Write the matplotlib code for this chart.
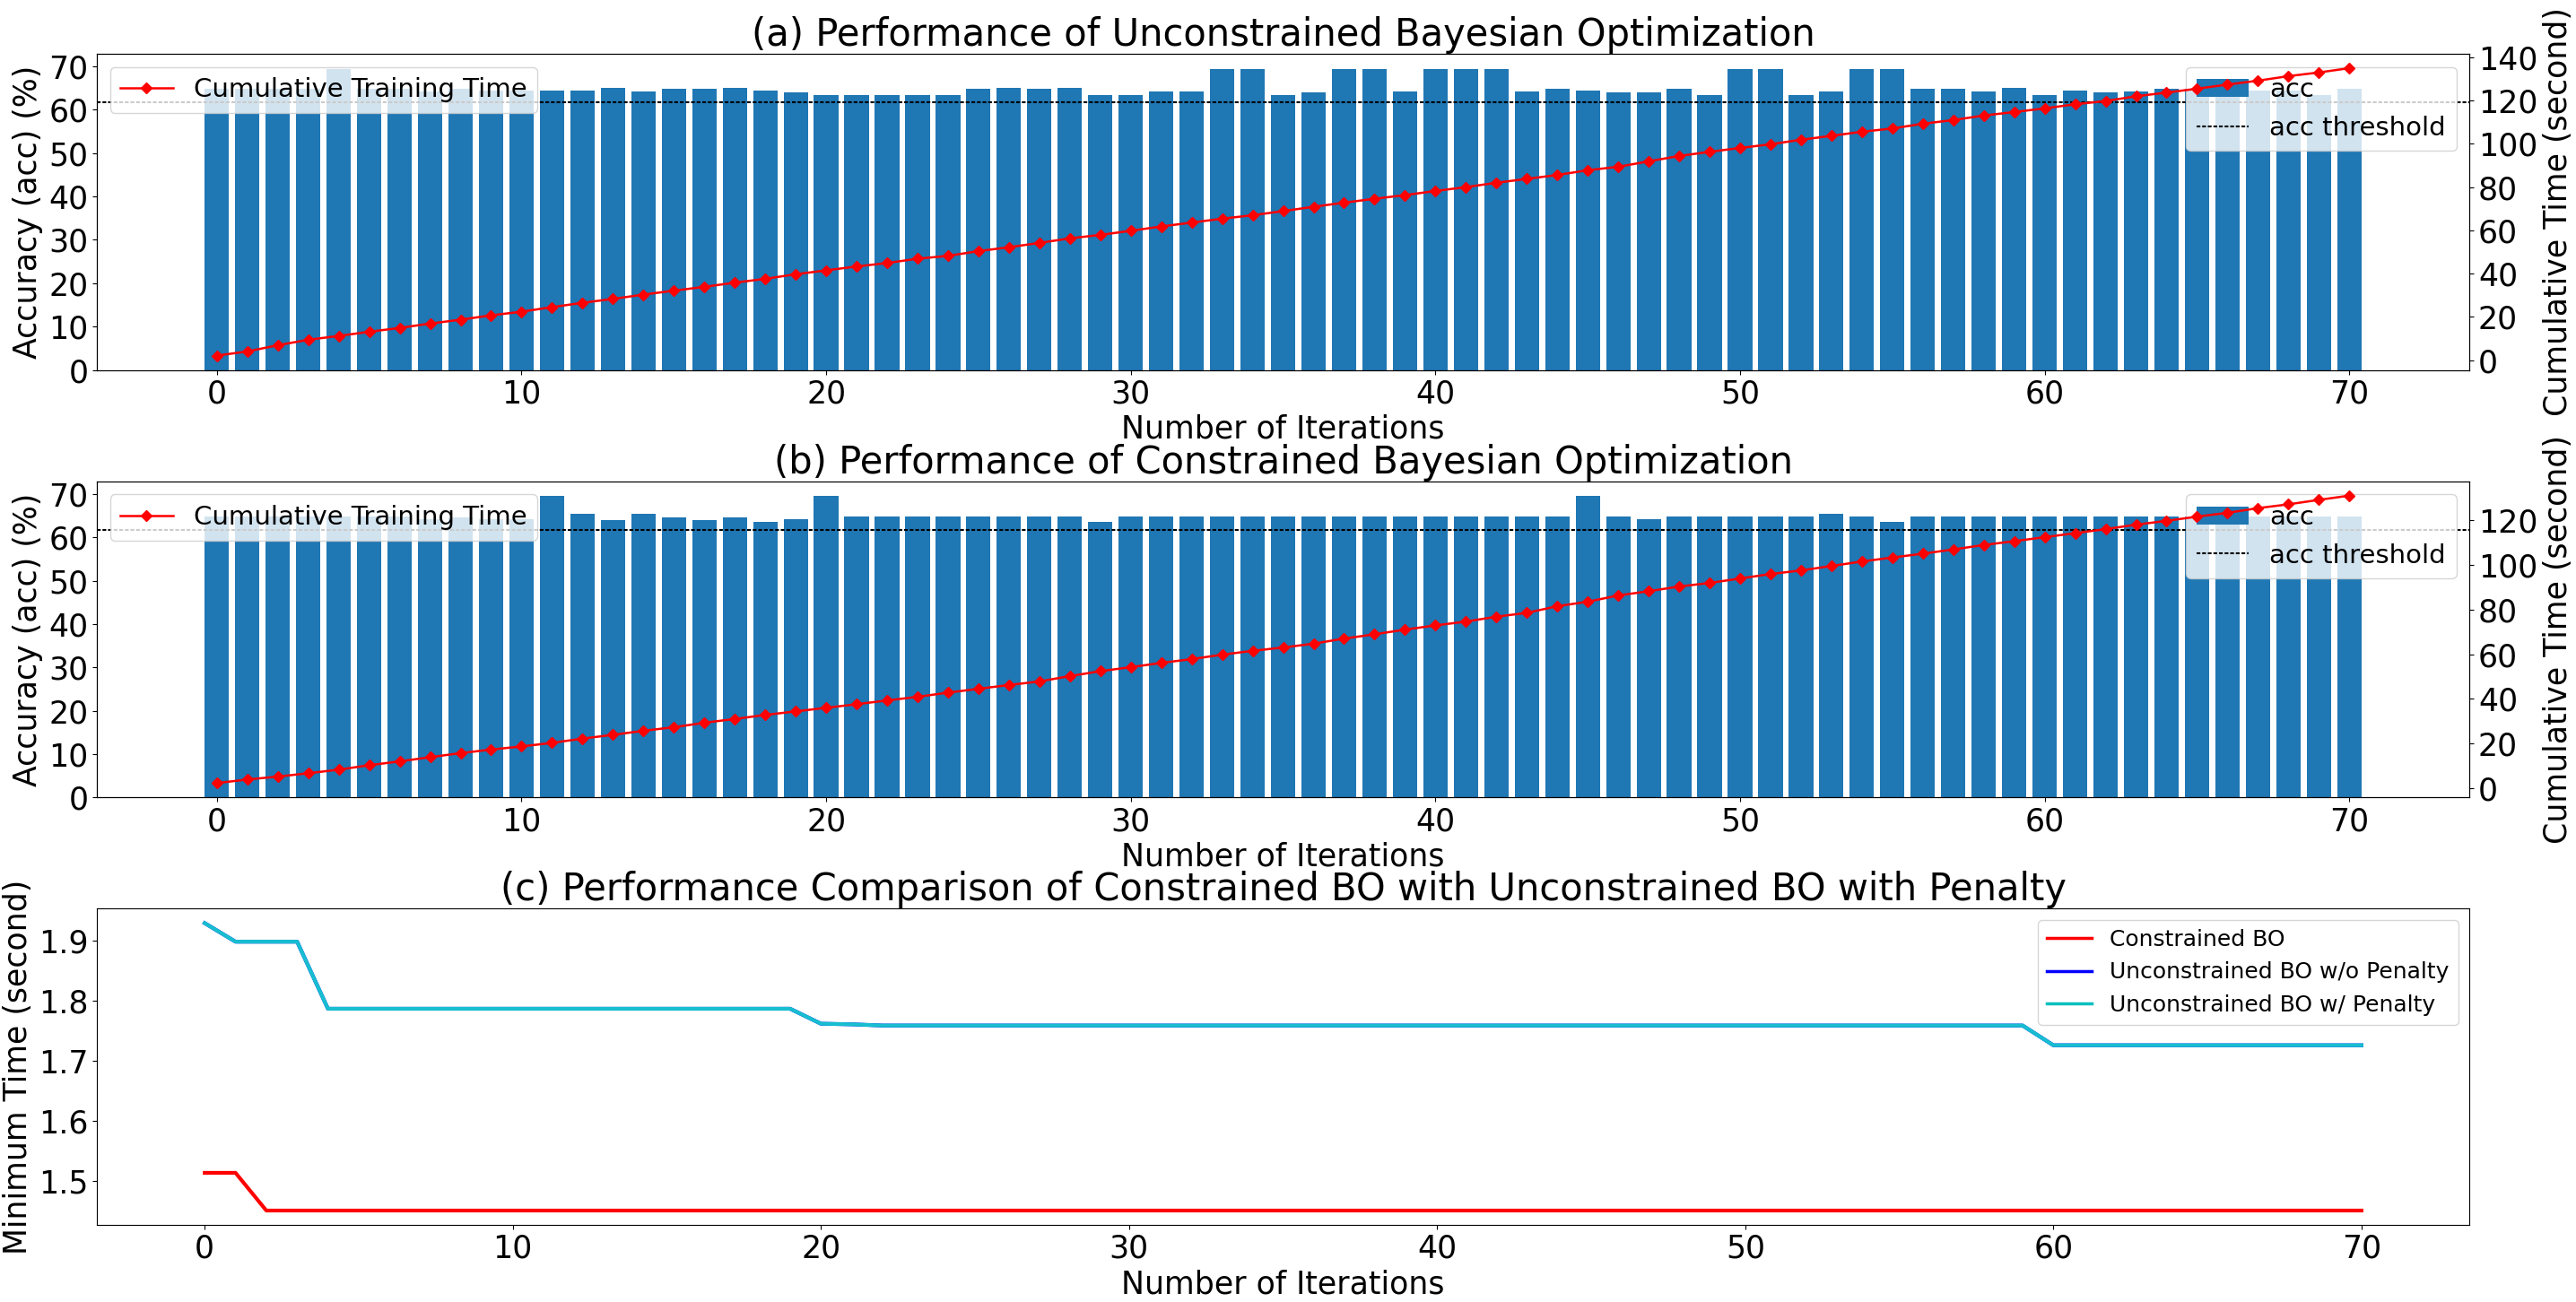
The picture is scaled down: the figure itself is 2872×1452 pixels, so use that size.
import matplotlib
matplotlib.use("Agg")
import matplotlib.pyplot as plt
from matplotlib.lines import Line2D
from matplotlib.ticker import MultipleLocator

iterations = list(range(71))

acc_unconstrained = [64.8, 64.8, 64.8, 64.8, 69.4, 64.8, 64.8, 64.1, 64.8, 64.3,
                     64.3, 64.4, 64.4, 65.1, 64.2, 64.9, 64.9, 65.1, 64.4, 64.0,
                     63.4, 63.4, 63.4, 63.4, 63.4, 64.9, 65.1, 64.9, 65.1, 63.4,
                     63.4, 64.2, 64.2, 69.4, 69.4, 63.4, 64.0, 69.4, 69.4, 64.2,
                     69.4, 69.4, 69.4, 64.2, 64.9, 64.4, 64.0, 64.0, 64.9, 63.4,
                     69.4, 69.4, 63.4, 64.2, 69.4, 69.4, 64.9, 64.9, 64.2, 65.1,
                     63.4, 64.4, 64.0, 64.1, 64.9, 64.9, 64.9, 64.3, 64.3, 63.4,
                     64.9]

time_unconstrained = [2.1, 4.0, 6.9, 9.4, 11.2, 13.1, 14.9, 16.9, 18.7, 20.7,
                      22.4, 24.5, 26.5, 28.3, 30.3, 32.1, 33.9, 35.8, 37.6, 39.7,
                      41.5, 43.3, 44.9, 46.9, 48.2, 50.4, 52.2, 54.2, 56.3, 57.9,
                      59.8, 61.8, 63.6, 65.4, 67.0, 68.9, 70.9, 72.8, 74.6, 76.3,
                      78.2, 80.0, 82.0, 83.8, 85.6, 87.8, 89.4, 91.9, 94.4, 96.3,
                      98.1, 99.8, 101.9, 103.7, 105.6, 107.1, 109.3, 111.0, 113.1, 114.7,
                      116.4, 118.3, 119.8, 122.0, 123.7, 125.5, 127.4, 129.2, 131.3, 133.0,
                      135.0]

acc_constrained = [64.9, 64.9, 64.9, 64.9, 64.9, 64.9, 64.9, 64.3, 64.7, 64.3,
                   64.3, 69.5, 65.4, 64.1, 65.4, 64.7, 64.1, 64.7, 63.7, 64.3,
                   69.5, 64.9, 64.9, 64.9, 64.9, 64.9, 64.9, 64.9, 64.9, 63.7,
                   64.9, 64.9, 64.9, 64.9, 64.9, 64.9, 64.9, 64.9, 64.9, 64.9,
                   64.9, 64.9, 64.9, 64.9, 64.9, 69.5, 64.9, 64.3, 64.9, 64.9,
                   64.9, 64.9, 64.9, 65.4, 64.9, 63.7, 64.9, 64.9, 64.9, 64.9,
                   64.9, 64.9, 64.9, 64.9, 64.9, 64.9, 64.9, 64.9, 64.9, 64.9,
                   64.9]

time_constrained = [2.3, 3.9, 5.2, 6.7, 8.3, 10.3, 12.0, 13.9, 15.7, 17.3,
                    18.7, 20.3, 22.2, 23.9, 25.7, 27.3, 29.3, 31.0, 32.8, 34.4,
                    36.0, 37.6, 39.3, 40.9, 42.8, 44.5, 46.2, 47.8, 50.2, 52.4,
                    54.2, 56.1, 57.8, 59.8, 61.5, 63.0, 64.7, 67.0, 68.9, 71.0,
                    72.9, 74.6, 76.8, 78.5, 81.5, 83.5, 86.3, 88.2, 90.3, 91.9,
                    93.9, 95.9, 97.5, 99.5, 101.5, 103.3, 105.0, 106.9, 108.9, 110.6,
                    112.4, 114.2, 116.0, 118.0, 119.7, 121.6, 123.3, 125.4, 127.1, 129.1,
                    131.0]

acc_threshold = 61.8

min_time_constrained = [1.513, 1.513, 1.45, 1.45, 1.45, 1.45, 1.45, 1.45, 1.45, 1.45,
                        1.45, 1.45, 1.45, 1.45, 1.45, 1.45, 1.45, 1.45, 1.45, 1.45,
                        1.45, 1.45, 1.45, 1.45, 1.45, 1.45, 1.45, 1.45, 1.45, 1.45,
                        1.45, 1.45, 1.45, 1.45, 1.45, 1.45, 1.45, 1.45, 1.45, 1.45,
                        1.45, 1.45, 1.45, 1.45, 1.45, 1.45, 1.45, 1.45, 1.45, 1.45,
                        1.45, 1.45, 1.45, 1.45, 1.45, 1.45, 1.45, 1.45, 1.45, 1.45,
                        1.45, 1.45, 1.45, 1.45, 1.45, 1.45, 1.45, 1.45, 1.45, 1.45,
                        1.45]

min_time_penalty = [1.930, 1.899, 1.899, 1.899, 1.787, 1.787, 1.787, 1.787, 1.787, 1.787,
                    1.787, 1.787, 1.787, 1.787, 1.787, 1.787, 1.787, 1.787, 1.787, 1.787,
                    1.762, 1.761, 1.759, 1.759, 1.759, 1.759, 1.759, 1.759, 1.759, 1.759,
                    1.759, 1.759, 1.759, 1.759, 1.759, 1.759, 1.759, 1.759, 1.759, 1.759,
                    1.759, 1.759, 1.759, 1.759, 1.759, 1.759, 1.759, 1.759, 1.759, 1.759,
                    1.759, 1.759, 1.759, 1.759, 1.759, 1.759, 1.759, 1.759, 1.759, 1.759,
                    1.726, 1.726, 1.726, 1.726, 1.726, 1.726, 1.726, 1.726, 1.726, 1.726,
                    1.726]
# w/o penalty run ends up on the same curve (hidden under the cyan one)
min_time_no_penalty = min_time_penalty

plt.rcParams['font.size'] = 25


def bar_panel(ax, acc, cum_time, title):
    bars = ax.bar(iterations, acc, label='acc')
    thr = ax.axhline(acc_threshold, color='k', linestyle=(0, (2, 1)), linewidth=1.5,
                     label='acc threshold')
    ax.set_ylabel('Accuracy (acc) (%)')
    ax.set_xlabel('Number of Iterations')
    ax.set_title(title)
    ax.yaxis.set_major_locator(MultipleLocator(10))
    ax.legend([bars, thr], ['acc', 'acc threshold'], loc='upper right', fontsize=21)
    ax2 = ax.twinx()
    ax2.plot(iterations, cum_time, color='r', marker='D', markersize=6, linewidth=1.8,
             label='Cumulative Training Time')
    ax2.set_ylabel('Cumulative Time (second)')
    ax2.yaxis.set_major_locator(MultipleLocator(20))
    ax2.legend(loc='upper left', fontsize=21)


fig, axes = plt.subplots(3, 1, figsize=(28.72, 14.52), dpi=100)
plt.subplots_adjust(left=0.0376, right=0.9586, top=0.9587, bottom=0.0592, hspace=0.352)

bar_panel(axes[0], acc_unconstrained, time_unconstrained,
          '(a) Performance of Unconstrained Bayesian Optimization')
bar_panel(axes[1], acc_constrained, time_constrained,
          '(b) Performance of Constrained Bayesian Optimization')

ax = axes[2]
ax.plot(iterations, min_time_constrained, color='r', linewidth=3)
ax.plot(iterations, min_time_no_penalty, color='b', linewidth=3)
ax.plot(iterations, min_time_penalty, color='#17becf', linewidth=3)
handles = [Line2D([0], [0], color='r', linewidth=2.5),
           Line2D([0], [0], color='b', linewidth=2.5),
           Line2D([0], [0], color='c', linewidth=2.5)]
ax.legend(handles, ['Constrained BO', 'Unconstrained BO w/o Penalty', 'Unconstrained BO w/ Penalty'],
          loc='upper right', fontsize=18)
ax.set_title('(c) Performance Comparison of Constrained BO with Unconstrained BO with Penalty')
ax.set_xlabel('Number of Iterations')
ax.set_ylabel('Minimum Time (second)')
ax.yaxis.set_major_locator(MultipleLocator(0.1))

plt.savefig('out.png')
